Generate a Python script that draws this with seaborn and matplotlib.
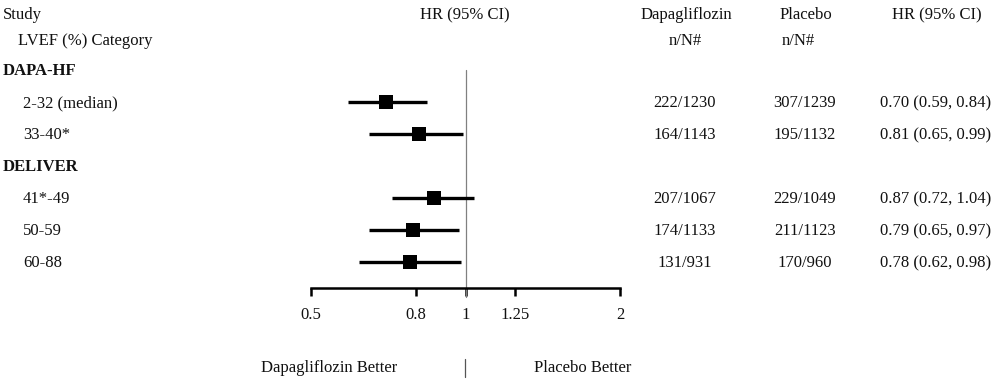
import numpy as np
import pandas as pd
import matplotlib
matplotlib.use("Agg")
import matplotlib.pyplot as plt
import seaborn as sns

# ---- data ----
studies = ["DAPA-HF", "DELIVER"]
categories = [["2-32 (median)", "33-40*"], ["41*-49", "50-59", "60-88"]]
hr = [0.70, 0.81, 0.87, 0.79, 0.78]
ci_low = [0.59, 0.65, 0.72, 0.65, 0.62]
ci_high = [0.84, 0.99, 1.04, 0.97, 0.98]
dapa_events = ["222/1230", "164/1143", "207/1067", "174/1133", "131/931"]
placebo_events = ["307/1239", "195/1132", "229/1049", "211/1123", "170/960"]
tick_values = [0.5, 0.8, 1, 1.25, 2]
tick_labels = ["0.5", "0.8", "1", "1.25", "2"]

sns.set_style("white")
plt.rcParams['font.family'] = ['Liberation Serif', 'DejaVu Serif']
plt.rcParams['mathtext.default'] = 'regular'

W, H = 1000, 381
fig = plt.figure(figsize=(10, 3.81), dpi=100)

# overlay axes in pixel units for the table text
tab = fig.add_axes([0, 0, 1, 1])
tab.set_xlim(0, W)
tab.set_ylim(H, 0)
tab.axis("off")

# forest plot axes (log scale), x spans 0.5 -> 2
ax = fig.add_axes([311 / W, 0, 309 / W, 1])
ax.set_xscale("log")
ax.set_xlim(0.5, 2)
ax.set_ylim(H, 0)
ax.patch.set_alpha(0)

ROW0, STEP = 70, 32
FS = 12
txt = "#111111"

# build the row layout
rows = []
k = 0
for s, cats in zip(studies, categories):
    rows.append(dict(label=s, bold=True, idx=None))
    for c in cats:
        rows.append(dict(label=c, bold=False, idx=k))
        k += 1
for i, r in enumerate(rows):
    r["y"] = ROW0 + STEP * i

df = pd.DataFrame([
    dict(y=r["y"], hr=hr[r["idx"]], lo=ci_low[r["idx"]], hi=ci_high[r["idx"]])
    for r in rows if r["idx"] is not None
])

# header
tab.text(3, 15, "Study", fontsize=FS, va="center", color=txt)
tab.text(18, 41, "LVEF (%) Category", fontsize=FS, va="center", color=txt)
tab.text(465, 15, "HR (95% CI)", fontsize=FS, va="center", ha="center", color=txt)
tab.text(686, 15, "Dapagliflozin", fontsize=FS, va="center", ha="center", color=txt)
tab.text(685, 41, "n/N#", fontsize=FS, va="center", ha="center", color=txt)
tab.text(806, 15, "Placebo", fontsize=FS, va="center", ha="center", color=txt)
tab.text(798, 41, "n/N#", fontsize=FS, va="center", ha="center", color=txt)
tab.text(937, 15, "HR (95% CI)", fontsize=FS, va="center", ha="center", color=txt)

for r in rows:
    if r["bold"]:
        tab.text(3, r["y"] + 1, r["label"], fontsize=FS, va="center",
                 fontweight="bold", color=txt)
    else:
        i = r["idx"]
        tab.text(23, r["y"] + 1, r["label"], fontsize=FS, va="center", color=txt)
        tab.text(685, r["y"] + 1, dapa_events[i], fontsize=FS, va="center",
                 ha="center", color=txt)
        tab.text(805, r["y"] + 1, placebo_events[i], fontsize=FS, va="center",
                 ha="center", color=txt)
        tab.text(936, r["y"] + 1, f"{hr[i]:.2f} ({ci_low[i]:.2f}, {ci_high[i]:.2f})",
                 fontsize=FS, va="center", ha="center", color=txt)

axis_y = ROW0 + STEP * 6.8

# reference line at HR = 1
ax.plot([1, 1], [ROW0, axis_y + 9], color="#808080", lw=0.9, zorder=1)

# confidence intervals and point estimates
ax.hlines(df["y"], df["lo"], df["hi"], color="black", lw=2.4, zorder=2)
sns.scatterplot(data=df, x="hr", y="y", marker="s", s=95, color="black",
                edgecolor="black", linewidth=0, ax=ax, zorder=3, legend=False)

# x axis
for sp in ["top", "left", "right"]:
    ax.spines[sp].set_visible(False)
ax.spines["bottom"].set_position(("data", axis_y))
ax.spines["bottom"].set_linewidth(1.8)
ax.spines["bottom"].set_color("black")
ax.set_xticks(tick_values)
ax.set_xticklabels(tick_labels)
ax.xaxis.set_minor_locator(matplotlib.ticker.NullLocator())
ax.tick_params(axis="x", direction="out", length=6, width=1.8, pad=8,
               labelsize=FS, colors="black", bottom=True)
for lab in ax.get_xticklabels():
    lab.set_color(txt)
ax.set_yticks([])
ax.set_xlabel("")
ax.set_ylabel("")

# direction labels
tab.text(397, 368, "Dapagliflozin Better", fontsize=FS, va="center", ha="right", color=txt)
tab.text(534, 368, "Placebo Better", fontsize=FS, va="center", ha="left", color=txt)
tab.plot([465, 465], [359, 377], color="#555555", lw=0.9)

fig.savefig("out.png", dpi=100)
